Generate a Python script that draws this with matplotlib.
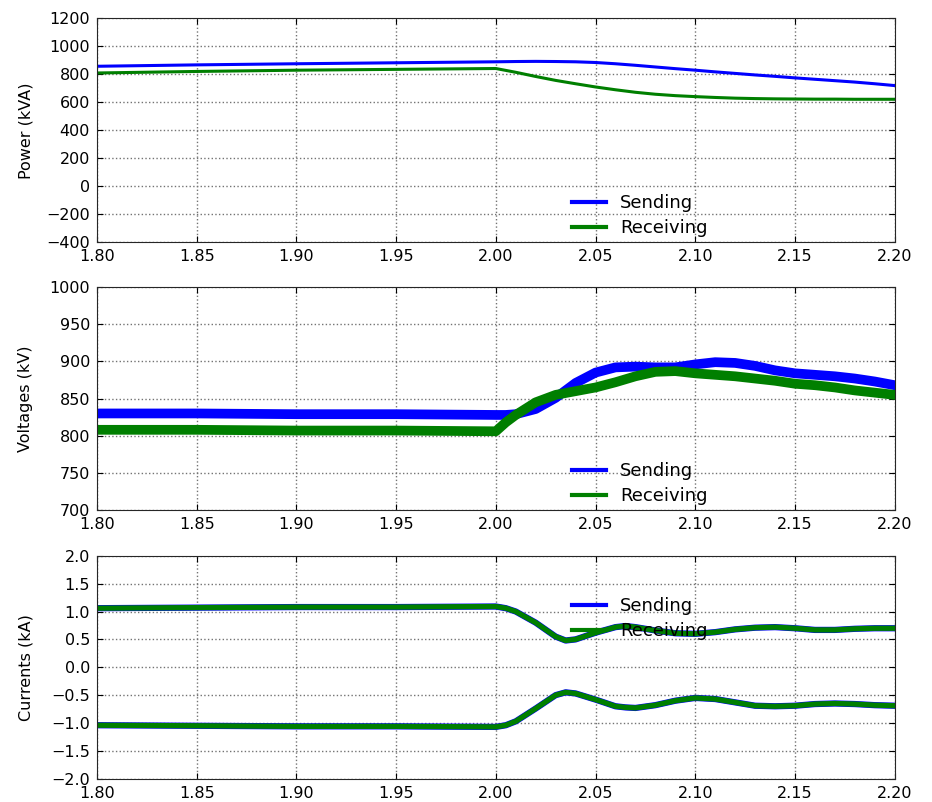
import matplotlib
matplotlib.use("Agg")
import matplotlib.pyplot as plt

# --- data (time in s) ---
t_power = [1.80, 1.85, 1.90, 1.95, 2.00, 2.01, 2.02, 2.03, 2.04, 2.05, 2.06, 2.07,
           2.08, 2.09, 2.10, 2.11, 2.12, 2.13, 2.14, 2.15, 2.16, 2.17, 2.18, 2.19, 2.20]
p_send = [858, 868, 876, 883, 890, 892, 893, 892, 890, 885, 876, 865,
          853, 841, 830, 818, 807, 796, 786, 775, 765, 755, 745, 733, 720]
p_recv = [810, 821, 830, 836, 842, 815, 785, 757, 733, 710, 690, 672,
          658, 648, 641, 635, 630, 627, 625, 624, 623, 623, 622, 622, 622]

t_volt = [1.80, 1.85, 1.90, 1.95, 2.00, 2.005, 2.01, 2.02, 2.03, 2.04, 2.05, 2.06,
          2.07, 2.08, 2.09, 2.10, 2.11, 2.12, 2.13, 2.14, 2.15, 2.16, 2.17, 2.18,
          2.19, 2.20]
v_send = [830, 830, 829, 829, 828, 828, 829, 836, 851, 871, 885, 892,
          893, 892, 892, 896, 899, 898, 894, 888, 884, 882, 880, 877,
          873, 868]
v_recv = [808, 808, 807, 807, 806, 818, 828, 845, 855, 860, 865, 872,
          880, 886, 887, 884, 882, 880, 877, 874, 870, 868, 865, 861,
          858, 855]

t_curr = [1.80, 1.85, 1.90, 1.95, 2.00, 2.005, 2.01, 2.02, 2.03, 2.035, 2.04, 2.05,
          2.06, 2.065, 2.07, 2.08, 2.09, 2.10, 2.11, 2.12, 2.13, 2.14, 2.15,
          2.16, 2.17, 2.18, 2.19, 2.20]
i_pos = [1.06, 1.07, 1.08, 1.08, 1.09, 1.06, 1.00, 0.80, 0.55, 0.48, 0.50, 0.62,
         0.72, 0.74, 0.72, 0.66, 0.61, 0.60, 0.63, 0.68, 0.71, 0.72, 0.70,
         0.67, 0.67, 0.69, 0.70, 0.70]
i_neg = [-1.04, -1.05, -1.06, -1.06, -1.07, -1.04, -0.97, -0.74, -0.50, -0.45, -0.47, -0.58,
         -0.70, -0.72, -0.73, -0.68, -0.60, -0.55, -0.57, -0.63, -0.69, -0.70, -0.69,
         -0.66, -0.65, -0.66, -0.68, -0.69]

x_ticks = [1.80, 1.85, 1.90, 1.95, 2.00, 2.05, 2.10, 2.15, 2.20]
labels = ["Sending", "Receiving"]

BLUE = "#0000ff"
GREEN = "#007f00"

fig = plt.figure(figsize=(9.32, 8.02), dpi=100)
left, width = 0.104, 0.856
ax1 = fig.add_axes([left, 0.698, width, 0.279])
ax2 = fig.add_axes([left, 0.364, width, 0.278])
ax3 = fig.add_axes([left, 0.029, width, 0.278])


def style_axes(ax, ylim, yticks, ylabel, fmt):
    ax.set_xlim(1.80, 2.20)
    ax.set_ylim(*ylim)
    ax.set_xticks(x_ticks)
    ax.set_xticklabels([f"{x:.2f}" for x in x_ticks])
    ax.set_yticks(yticks)
    ax.set_yticklabels([fmt.format(y).replace("-", "\u2212") for y in yticks])
    ax.set_ylabel(ylabel, fontsize=11.5)
    ax.grid(True, linestyle=":", color="0.45", linewidth=1)
    ax.tick_params(direction="in", top=True, right=True, labelsize=11.5,
                   length=4, pad=5)
    for s in ax.spines.values():
        s.set_color("0.15")


# --- power ---
ax1.plot(t_power, p_send, color=BLUE, lw=2.2, label=labels[0])
ax1.plot(t_power, p_recv, color=GREEN, lw=2.2, label=labels[1])
style_axes(ax1, (-400, 1200), list(range(-400, 1201, 200)), "Power (kVA)", "{:d}")

# --- voltages (thick lines stand in for the ripple band) ---
ax2.plot(t_volt, v_send, color=BLUE, lw=7, solid_joinstyle="round", label=labels[0])
ax2.plot(t_volt, v_recv, color=GREEN, lw=7, solid_joinstyle="round", label=labels[1])
style_axes(ax2, (700, 1000), list(range(700, 1001, 50)), "Voltages (kV)", "{:d}")

# --- currents ---
ax3.plot(t_curr, i_pos, color=BLUE, lw=4.5, label=labels[0])
ax3.plot(t_curr, i_neg, color=BLUE, lw=4.5)
ax3.plot(t_curr, i_pos, color=GREEN, lw=3.8, label=labels[1])
ax3.plot(t_curr, i_neg, color=GREEN, lw=3.8)
style_axes(ax3, (-2.0, 2.0), [-2.0, -1.5, -1.0, -0.5, 0.0, 0.5, 1.0, 1.5, 2.0],
           "Currents (kA)", "{:.1f}")

# legends (frameless, as in the old default look)
for ax, y in [(ax1, 0.022), (ax2, 0.022), (ax3, 0.622)]:
    leg = ax.legend(loc="lower left", bbox_to_anchor=(0.595, y), frameon=False,
                    fontsize=13, borderpad=0, borderaxespad=0, handlelength=1.9,
                    labelspacing=0.4)
    for h in leg.legend_handles:
        h.set_linewidth(3)

for ax in (ax1, ax2, ax3):
    ax.yaxis.set_label_coords(-0.08, 0.5)

fig.savefig("out.png", dpi=100, facecolor="white")
